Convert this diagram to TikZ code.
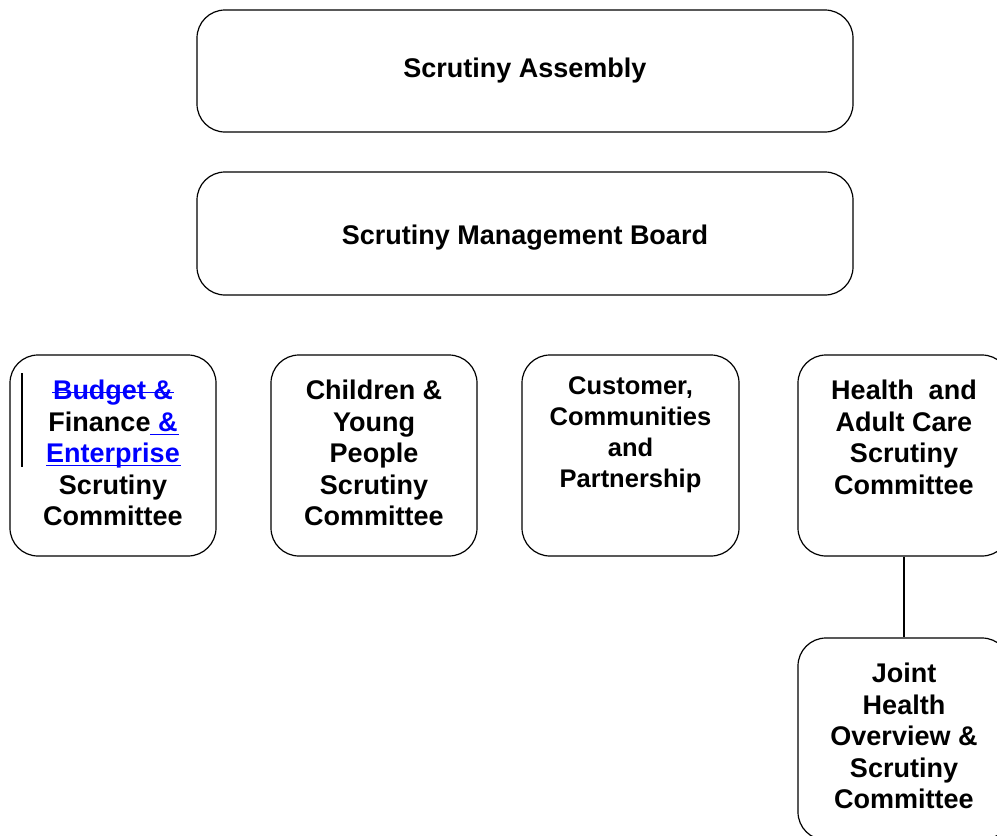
\documentclass[tikz,border=0pt]{standalone}
\usepackage{fontspec}
\setmainfont{Liberation Sans}
\definecolor{insblue}{rgb}{0,0,1}
\begin{document}
\begin{tikzpicture}[x=1pt,y=-1pt,
  box/.style={draw, line width=1.2pt, rounded corners=28pt, rectangle, inner sep=0pt},
  lbl/.style={font=\bfseries\fontsize{27}{31.5}\selectfont, align=center, inner sep=0pt, anchor=north},
  conn/.style={draw, line width=1.2pt},
  changebar/.style={fill=insblue, draw=none}]
\useasboundingbox (0,0) rectangle (997,836);
\clip (0,0) rectangle (997,836);
% top boxes
\node[box, minimum width=656pt, minimum height=122pt] (sa) at (525,71) {};
\node[box, minimum width=656pt, minimum height=123pt] (smb) at (525,233.5) {};
\node[lbl, anchor=center] (tsa) at (525,71) {Scrutiny Assembly};
\node[lbl, anchor=center] (tsmb) at (525,238) {Scrutiny Management Board};
% committee boxes
\node[box, minimum width=206pt, minimum height=201pt] (bfe) at (113,455.5) {};
\node[box, minimum width=206pt, minimum height=201pt] (cyp) at (374,455.5) {};
\node[box, minimum width=217pt, minimum height=201pt] (ccp) at (630.5,455.5) {};
\node[box, minimum width=212pt, minimum height=201pt] (hac) at (904,455.5) {};
\node[box, minimum width=212pt, minimum height=202pt] (jhc) at (904,739) {};
\path[conn] (hac.south) -- (jhc.north);
% texts
\node[lbl] (tbfe) at (113,380) {\textcolor{insblue}{Budget \&}\\Finance\textcolor{insblue}{\ \&}\\\textcolor{insblue}{Enterprise}\\Scrutiny\\Committee};
% strike-through and underlines (tracked changes), drawn as thin filled bars
\coordinate (s1) at (52,391.7);  \coordinate (s2) at (174,393.3);
\coordinate (u1) at (150,433.7); \coordinate (u2) at (179,435.3);
\coordinate (e1) at (46,464.7);  \coordinate (e2) at (181,466.3);
\path[changebar] (s1) rectangle (s2);
\path[changebar] (u1) rectangle (u2);
\path[changebar] (e1) rectangle (e2);
\coordinate (cb1) at (22,373);
\coordinate (cb2) at (22,467);
\draw[line width=1.3pt] (cb1) -- (cb2);
\node[lbl] (tcyp) at (374,380) {Children \&\\Young\\People\\Scrutiny\\Committee};
\node[lbl, font=\bfseries\fontsize{25.5}{31}\selectfont] (tccp) at (630.5,376) {Customer,\\Communities\\and\\Partnership};
\node[lbl] (thac) at (904,380) {Health\ \ and\\Adult Care\\Scrutiny\\Committee};
\node[lbl] (tjhc) at (904,663) {Joint\\Health\\Overview \&\\Scrutiny\\Committee};
\end{tikzpicture}
\end{document}
